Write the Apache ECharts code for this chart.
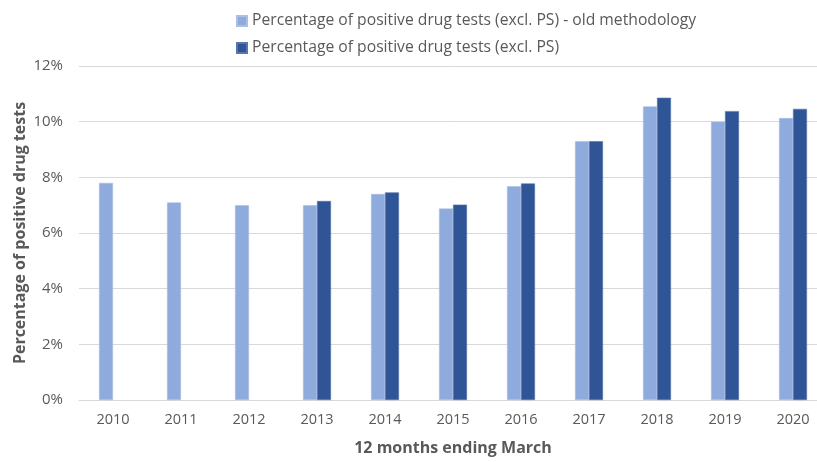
<!DOCTYPE html>
<html>
<head>
<meta charset="utf-8">
<script src="https://cdn.jsdelivr.net/npm/echarts@6/dist/echarts.min.js"></script>
<style>
  html, body { margin: 0; padding: 0; background: #fff; }
  #chart { width: 817px; height: 462px; }
</style>
</head>
<body>
<div id="chart"></div>
<script>
// 12 months ending March
var years = ['2010', '2011', '2012', '2013', '2014', '2015', '2016', '2017', '2018', '2019', '2020']
// % of positive drug tests (excl. PS) - old methodology
var oldMethod = [7.8, 7.1, 7.0, 7.0, 7.4, 6.88, 7.68, 9.3, 10.55, 10.0, 10.13]
// % of positive drug tests (excl. PS), new series starts in 2013
var newMethod = [null, null, null, 7.15, 7.46, 7.02, 7.78, 9.3, 10.86, 10.38, 10.46]

var font = 'Open Sans'
var grey = '#595959'

var chart = echarts.init(document.getElementById('chart'))

chart.setOption({
  backgroundColor: '#fff',
  textStyle: { fontFamily: font },
  legend: {
    orient: 'vertical',
    left: 231,
    top: 8,
    itemGap: 11,
    icon: 'rect',
    itemWidth: 10,
    itemHeight: 10,
    textStyle: { fontSize: 15.7, color: grey, fontFamily: font }
  },
  grid: {
    left: 79,
    top: 66,
    width: 748,
    bottom: 62,
    containLabel: false,
    outerBoundsMode: 'none'
  },
  xAxis: {
    type: 'category',
    data: years,
    name: '12 months ending March',
    nameLocation: 'middle',
    nameGap: 40,
    nameTextStyle: { fontSize: 16, fontWeight: 'bold', color: grey },
    axisTick: { show: false },
    axisLine: { lineStyle: { color: '#d9d9d9', width: 1 } },
    axisLabel: { fontSize: 14.5, color: grey, margin: 12 }
  },
  yAxis: {
    type: 'value',
    min: 0,
    max: 12,
    interval: 2,
    name: 'Percentage of positive drug tests',
    nameLocation: 'middle',
    nameGap: 51,
    nameMoveOverlap: false,
    nameTextStyle: { fontSize: 16, fontWeight: 'bold', color: grey },
    axisLabel: { fontSize: 15, color: grey, margin: 16, formatter: '{value}%' },
    axisLine: { show: false },
    axisTick: { show: false },
    splitLine: { lineStyle: { color: '#d9d9d9', width: 1 } }
  },
  series: [{
    name: 'Percentage of positive drug tests (excl. PS) - old methodology',
    type: 'bar',
    data: oldMethod,
    barWidth: 14,
    barGap: '0%',
    itemStyle: { color: '#8faadc', borderColor: '#a9bfe6', borderWidth: 0.6 }
  }, {
    name: 'Percentage of positive drug tests (excl. PS)',
    type: 'bar',
    data: newMethod,
    barWidth: 14,
    barGap: '0%',
    itemStyle: { color: '#2f5597', borderColor: '#5576b0', borderWidth: 0.6 }
  }]
})
</script>
</body>
</html>
